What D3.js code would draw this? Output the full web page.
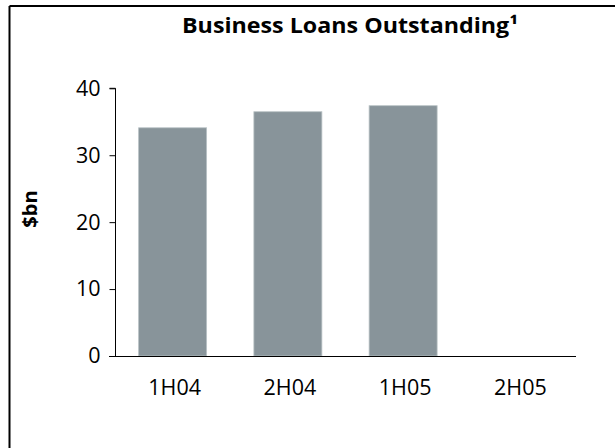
<!DOCTYPE html>
<html><head><meta charset="utf-8">
<script src="https://cdn.jsdelivr.net/npm/d3@7"></script>
<style>html,body{margin:0;padding:0;background:#fff;}svg{display:block;}</style>
</head><body>
<script>
const categories = ["1H04", "2H04", "1H05", "2H05"];
const values = [34.1, 36.5, 37.4, null];
const yTicks = [0, 10, 20, 30, 40];
const title = "Business Loans Outstanding\u00B9";
const yLabel = "$bn";

const W = 615, H = 448;
const svg = d3.select("body").append("svg").attr("width", W).attr("height", H);
const font = "'Open Sans', sans-serif";

// frame (top and left edges visible)
svg.append("line").attr("x1", 9.5).attr("y1", 6).attr("x2", W).attr("y2", 6).attr("stroke", "#000").attr("stroke-width", 2);
svg.append("line").attr("x1", 9.5).attr("y1", 6).attr("x2", 9.5).attr("y2", H).attr("stroke", "#000").attr("stroke-width", 2);

const x = d3.scaleBand().domain(categories).range([115, 576]).paddingInner(0.41).paddingOuter(0.205);
const y = d3.scaleLinear().domain([0, 40]).range([356, 88.3]);

// bars
svg.append("g").selectAll("rect").data(categories.map((c, i) => ({c, v: values[i]})).filter(d => d.v != null))
  .join("rect")
  .attr("x", d => x(d.c)).attr("width", x.bandwidth())
  .attr("y", d => y(d.v)).attr("height", d => y(0) - y(d.v))
  .attr("fill", "#88949a").attr("stroke", "#b9c2c5").attr("stroke-width", 0.8);

// y axis
const yAxis = svg.append("g").attr("transform", "translate(115.5,0)")
  .call(d3.axisLeft(y).tickValues(yTicks).tickSize(6).tickPadding(9).tickFormat(d3.format("d")));
yAxis.select(".domain").attr("stroke", "#000").attr("d", `M-6,${y(40)}H0V${y(0)}`);
yAxis.selectAll(".tick line").attr("stroke", "#000");
yAxis.selectAll(".tick text").attr("font-family", font).attr("font-size", 21.5).attr("fill", "#000");

// x axis
const xAxis = svg.append("g").attr("transform", `translate(0,${y(0) + 0.5})`)
  .call(d3.axisBottom(x).tickSize(0).tickPadding(23));
xAxis.select(".domain").attr("stroke", "#000").attr("d", "M109,0H576");
xAxis.selectAll(".tick text").attr("font-family", font).attr("font-size", 21.5).attr("fill", "#000").attr("dx", 2);

// title
svg.append("text").attr("x", 350).attr("y", 33).attr("text-anchor", "middle")
  .attr("font-family", font).attr("font-weight", "bold").attr("font-size", 21.5)
  .attr("textLength", 336).attr("lengthAdjust", "spacingAndGlyphs")
  .text(title);

// y label
svg.append("text").attr("transform", "translate(37,209) rotate(-90)").attr("text-anchor", "middle")
  .attr("font-family", font).attr("font-weight", "bold").attr("font-size", 20)
  .text(yLabel);
</script>
</body></html>
